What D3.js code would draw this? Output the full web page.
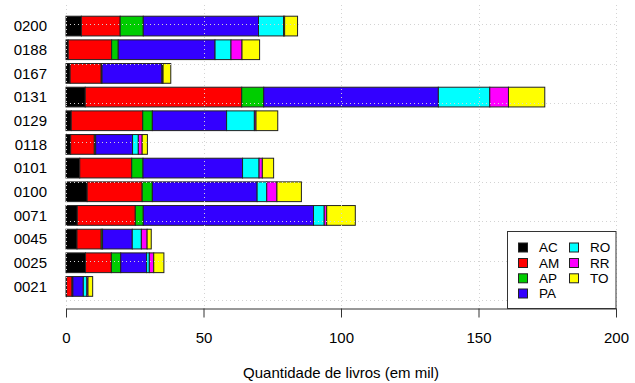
<!DOCTYPE html>
<html>
<head>
<meta charset="utf-8">
<script src="https://cdn.jsdelivr.net/npm/d3@7"></script>
<style>
  html, body { margin: 0; padding: 0; background: #fff; }
  svg { display: block; font-family: "Liberation Sans", Arial, sans-serif; }
</style>
</head>
<body>
<svg id="chart" width="635" height="383"></svg>
<script>
// Categories (top to bottom)
const categories = ["0200","0188","0167","0131","0129","0118","0101","0100","0071","0045","0025","0021"];
// Series (states), values in thousands of books
const seriesNames = ["AC","AM","AP","PA","RO","RR","TO"];
const AC = [5.6, 0.8, 1.5, 7.0, 1.9, 1.7, 5.0, 7.7, 4.1, 4.0, 7.1, 0.2];
const AM = [14.1, 15.8, 11.3, 56.9, 26.0, 8.6, 18.9, 20.0, 21.1, 8.8, 9.4, 2.0];
const AP = [8.4, 2.4, 0.3, 8.0, 3.5, 0.5, 4.1, 3.7, 2.9, 0.5, 3.4, 0.3];
const PA = [41.9, 35.2, 21.8, 63.5, 27.0, 13.4, 36.2, 38.1, 61.9, 10.8, 9.4, 3.8];
const RO = [9.1, 5.8, 0.3, 18.7, 10.1, 2.1, 6.0, 3.5, 3.9, 3.3, 1.0, 1.3];
const RR = [0.4, 4.0, 0.1, 6.8, 0.6, 1.4, 1.2, 3.7, 0.9, 2.1, 1.6, 0.4];
const TO = [4.7, 6.4, 2.8, 13.2, 7.9, 1.9, 4.1, 8.9, 10.4, 1.5, 3.7, 1.7];
const colors = ["#000000","#FF0000","#00CD00","#3300FF","#00FFFF","#FF00FF","#FFFF00"];
const xTicks = [0, 50, 100, 150, 200];
const yGrid = [0, 2, 4, 6, 8, 10, 12, 14];
const xTitle = "Quantidade de livros (em mil)";

const seriesData = [AC, AM, AP, PA, RO, RR, TO];
const rows = categories.map((c, i) => {
  const r = { cat: c };
  seriesNames.forEach((s, j) => r[s] = seriesData[j][i]);
  return r;
});

const svg = d3.select("#chart");
const n = categories.length;

const x = d3.scaleLinear().domain([0, 200]).range([66, 616]);
// R-style barplot units: bar k (from bottom) spans 0.2+1.2k .. 1.2+1.2k
const y = d3.scaleLinear().domain([-0.368, 14.968]).range([307.5, 5]);
const catIndex = d3.scaleOrdinal().domain(categories).range(d3.range(n).map(i => n - 1 - i));

const stack = d3.stack().keys(seriesNames);
const stacked = stack(rows);

// Bars
const g = svg.append("g");
stacked.forEach((layer, j) => {
  g.selectAll(null)
    .data(layer)
    .enter().append("rect")
    .attr("x", d => x(d[0]))
    .attr("width", d => Math.max(0, x(d[1]) - x(d[0])))
    .attr("y", d => y(1.2 + 1.2 * catIndex(d.data.cat)))
    .attr("height", d => y(0.2 + 1.2 * catIndex(d.data.cat)) - y(1.2 + 1.2 * catIndex(d.data.cat)))
    .attr("fill", colors[j])
    .attr("stroke", "#222")
    .attr("stroke-width", 1);
});

// Grid (drawn on top)
const grid = svg.append("g").attr("stroke", "#D3D3D3").attr("stroke-dasharray", "1,3").attr("stroke-width", 1);
grid.selectAll(null).data(yGrid).enter().append("line")
  .attr("x1", x(0)).attr("x2", x(200))
  .attr("y1", d => Math.round(y(d)) + 0.5).attr("y2", d => Math.round(y(d)) + 0.5);
grid.selectAll(null).data(xTicks).enter().append("line")
  .attr("x1", d => Math.round(x(d)) + 0.5).attr("x2", d => Math.round(x(d)) + 0.5)
  .attr("y1", y.range()[1]).attr("y2", y.range()[0]);

// Category labels
svg.append("g").selectAll(null).data(categories).enter().append("text")
  .attr("x", 47)
  .attr("y", d => y(0.7 + 1.2 * catIndex(d)))
  .attr("dy", "0.35em")
  .attr("text-anchor", "end")
  .attr("font-size", 15)
  .attr("fill", "#000")
  .text(d => d);

// X axis
const xAxis = d3.axisBottom(x).tickValues(xTicks).tickSize(9).tickPadding(15).tickSizeOuter(0);
const ax = svg.append("g").attr("transform", "translate(0,308.5)").call(xAxis);
ax.select(".domain").attr("stroke", "#333");
ax.selectAll(".tick line").attr("stroke", "#333");
ax.selectAll(".tick text").attr("font-size", 15).attr("font-family", "Liberation Sans, Arial, sans-serif").attr("fill", "#000");

svg.append("text")
  .attr("x", (x(0) + x(200)) / 2)
  .attr("y", 373)
  .attr("dy", "0.35em")
  .attr("text-anchor", "middle")
  .attr("font-size", 15)
  .attr("fill", "#000")
  .text(xTitle);

// Legend (bottom right)
const lg = svg.append("g");
lg.append("rect").attr("x", 507.5).attr("y", 231.5).attr("width", 108.5).attr("height", 77)
  .attr("fill", "#fff").attr("stroke", "#333").attr("stroke-width", 1);
const legendCols = [523, 574];
const legendRows = [247.5, 263, 278.3, 293.5];
seriesNames.forEach((s, j) => {
  const col = j < 4 ? 0 : 1;
  const row = j < 4 ? j : j - 4;
  const cx = legendCols[col], cy = legendRows[row];
  lg.append("rect").attr("x", cx - 4.5).attr("y", cy - 4.5).attr("width", 9).attr("height", 9)
    .attr("fill", colors[j]).attr("stroke", "#222").attr("stroke-width", 1);
  lg.append("text").attr("x", cx + 16).attr("y", cy).attr("dy", "0.36em")
    .attr("font-size", 13.5).attr("fill", "#000").text(s);
});
</script>
</body>
</html>
